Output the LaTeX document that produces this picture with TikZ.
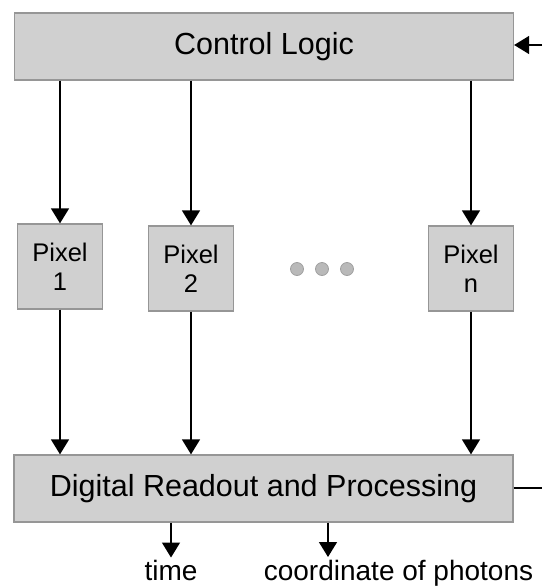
\documentclass[tikz,border=0pt]{standalone}
\usepackage{fontspec}
\setmainfont{Liberation Sans}
\usetikzlibrary{arrows.meta}
\definecolor{boxfill}{RGB}{208,208,208}
\definecolor{boxline}{RGB}{150,150,150}
\definecolor{dotfill}{RGB}{185,185,185}
\begin{document}
\begin{tikzpicture}[x=1pt,y=-1pt,
	box/.style={draw=boxline,fill=boxfill,line width=1.3pt,inner sep=0pt,minimum width=499pt,minimum height=67pt,font=\fontsize{30.5}{33}\selectfont},
	pix/.style={draw=boxline,fill=boxfill,line width=1.3pt,inner sep=0pt,minimum width=85pt,minimum height=85pt,align=center,font=\fontsize{25.5}{29}\selectfont},
	arr/.style={line width=1.5pt,-{Triangle[length=15pt,width=18pt]}},
	lbl/.style={inner sep=2pt,font=\fontsize{28}{30}\selectfont}]
			\useasboundingbox (0,0) rectangle (542,587);
			
			\node[box] (ctrl) at (264,46.5) {Control Logic};
			\node[box] (readout) at (263.5,488.5) {Digital Readout and Processing};
			
			\node[pix] (pix1) at (60,266.5) {Pixel\\1};
			\node[pix] (pix2) at (191,268.5) {Pixel\\2};
			\node[pix] (pixn) at (471,268.5) {Pixel\\n};
			
			\foreach \x in {297,322,347}{
				\draw[boxline!90,fill=dotfill,line width=0.8pt] (\x,269) circle (6.5);
			}
			
			\foreach \p in {pix1,pix2,pixn}{
				\draw[arr] (ctrl.south -| \p) -- (\p.north);
				\draw[arr] (\p.south) -- (readout.north -| \p);
			}
			
			\coordinate (fb) at (542,45);
			\draw[arr] (fb) -- (fb -| ctrl.east);
			\coordinate (rout) at (542,488);
			\draw[line width=1.5pt] (readout.east |- rout) -- (rout);
			
			\node[lbl,anchor=base] (time) at (171,580) {time};
			\node[lbl,anchor=base] (coord) at (398.5,580) {coordinate of photons};
			\coordinate (cout) at (328,557);
			\draw[arr] (readout.south -| time) -- (time.north);
			\draw[arr] (readout.south -| cout) -- (cout);
		\end{tikzpicture}
\end{document}
